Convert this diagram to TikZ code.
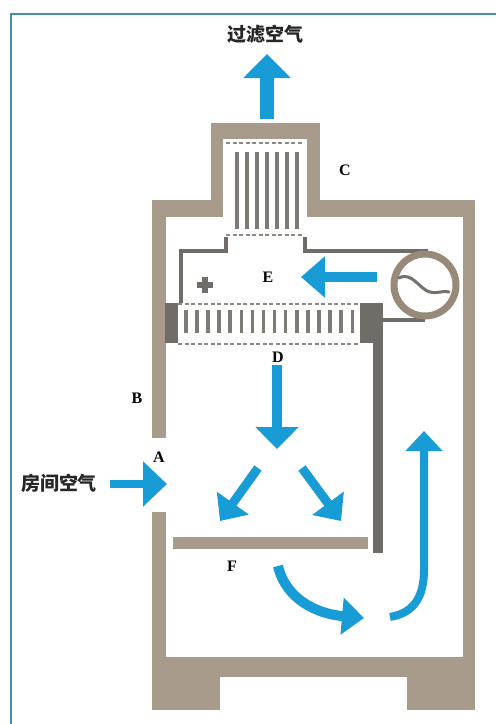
\documentclass[tikz,border=0pt]{standalone}
\usepackage{fontspec}
\setmainfont{Liberation Serif}
\newfontfamily\cjk{Noto Sans CJK SC}
\usetikzlibrary{arrows.meta}

\definecolor{frameblue}{RGB}{72,140,166}
\definecolor{wall}{RGB}{168,155,140}
\definecolor{plenum}{RGB}{112,108,104}
\definecolor{flow}{RGB}{24,156,214}
\definecolor{fanring}{RGB}{152,138,120}

\tikzset{
  wallpart/.style={fill=wall, draw=none},
  duct/.style={draw=plenum, line width=4.5pt},
  darkblock/.style={fill=plenum, draw=none},
  filterbox/.style={fill=white, draw=none},
  filteredge/.style={draw=plenum!80, line width=1.2pt, dash pattern=on 4pt off 2.5pt},
  filterbar/.style={fill=plenum!90, draw=none},
  flowarrow/.style={draw=flow, line width=#1, line cap=butt},
  letter/.style={font=\fontsize{16}{16}\selectfont\bfseries, text=black, inner sep=0pt},
  airtext/.style={font=\cjk\bfseries\fontsize{19}{19}\selectfont, text=black!85, inner sep=0pt}
}

\begin{document}
\begin{tikzpicture}[x=1pt,y=-1pt]
  \useasboundingbox (0,0) rectangle (496,724);
  \fill[white] (0,0) rectangle (496,724);

  % frame lines on the top and left edges
  \draw[frameblue, line width=2pt] (11,724) -- (11,14) -- (496,14);

  % cabinet body and exhaust tower
  \fill[wallpart] (152,200) rectangle (223,217);
  \fill[wallpart] (307,200) rectangle (475,217);
  \fill[wallpart] (211,123) rectangle (320,139);
  \fill[wallpart] (211,123) rectangle (223,217);
  \fill[wallpart] (307,123) rectangle (320,217);
  \fill[wallpart] (463,200) rectangle (475,677);
  \fill[wallpart] (152,200) rectangle (166,438);
  \fill[wallpart] (152,512) rectangle (166,677);
  \fill[wallpart] (152,657) rectangle (475,677);
  \fill[wallpart] (152,657) rectangle (220,710);
  \fill[wallpart] (407,657) rectangle (475,710);
  % work surface
  \fill[wallpart] (173,537) rectangle (368,549);

  % exhaust filter (C)
  \fill[filterbox] (224,139) rectangle (306,237);
  \draw[filteredge] (226,143) -- (304,143);
  \draw[filteredge] (226,235) -- (304,235);
  \foreach \i in {0,...,6}{
    \fill[filterbar] ({235+10*\i},152) rectangle ({239+10*\i},229);
  }

  % plenum walls
  \draw[duct] (181,303) -- (181,251) -- (226,251) -- (226,237);
  \draw[duct] (305,237) -- (305,251) -- (428,251);
  \draw[duct] (380,320) -- (425,320);
  \fill[darkblock] (165,303) rectangle (178,343);
  \fill[darkblock] (360,303) rectangle (383,343);
  \fill[darkblock] (373,343) rectangle (383,553);

  % supply filter (D)
  \fill[filterbox] (178,303) rectangle (360,346);
  \draw[filteredge] (178,304) -- (360,304);
  \draw[filteredge] (178,344) -- (360,344);
  \foreach \i in {0,...,15}{
    \fill[filterbar] ({184+11.1*\i},310) rectangle ({187.5+11.1*\i},333);
  }

  % blower
  \draw[fanring, line width=7pt] (425,285) circle (31);
  \draw[plenum!85!fanring, line width=3pt, line cap=round]
    (399,278) .. controls (412,271) and (420,290) .. (430,292)
    .. controls (438,294) and (444,290) .. (449,292);

  % positive pressure mark
  \draw[plenum, line width=6pt] (197,285) -- (213,285) (205,277) -- (205,293);

  % end points of the air flows
  \coordinate (exhaustS) at (267,119);
  \coordinate (exhaustE) at (267,54);
  \coordinate (roomS) at (110,484);
  \coordinate (roomE) at (167,484);
  \coordinate (plenumS) at (377,277);
  \coordinate (plenumE) at (301,277);
  \coordinate (downS) at (277,365);
  \coordinate (downE) at (277,449);
  \coordinate (leftS) at (258,468);
  \coordinate (leftE) at (220,521);
  \coordinate (rightS) at (302,468);
  \coordinate (rightE) at (341,521);
  \coordinate (under) at (278,566);
  \coordinate (underE) at (364,618);
  \coordinate (backS) at (390,617);
  \coordinate (backM) at (424,570);
  \coordinate (backE) at (424,431);

  % air flows
  \draw[flowarrow=14pt, -{Triangle[width=46pt,length=24pt]}] (exhaustS) -- (exhaustE);
  \draw[flowarrow=8pt, -{Triangle[width=44pt,length=24pt]}] (roomS) -- (roomE);
  \draw[flowarrow=10pt, -{Triangle[width=40pt,length=24pt]}] (plenumS) -- (plenumE);
  \draw[flowarrow=10pt, -{Triangle[width=42pt,length=22pt]}] (downS) -- (downE);
  \draw[flowarrow=9pt, -{Triangle[width=38pt,length=22pt]}] (leftS) -- (leftE);
  \draw[flowarrow=9pt, -{Triangle[width=38pt,length=22pt]}] (rightS) -- (rightE);
  \draw[flowarrow=10pt, -{Triangle[width=36pt,length=22pt]}] (under) .. controls (286,600) and (318,614) .. (underE);
  \draw[flowarrow=8pt, -{Triangle[width=36pt,length=20pt]}] (backS) .. controls (413,613) and (424,598) .. (backM) -- (backE);

  % labels
  \node[airtext] (outair) at (265,34) {过滤空气};
  \node[airtext] (inair) at (59,483) {房间空气};
  \node[letter] (lblA) at (159,457) {A};
  \node[letter] (lblB) at (137,398) {B};
  \node[letter] (lblC) at (345,170) {C};
  \node[letter] (lblD) at (278,357) {D};
  \node[letter] (lblE) at (268,277) {E};
  \node[letter] (lblF) at (232,566) {F};
\end{tikzpicture}
\end{document}
